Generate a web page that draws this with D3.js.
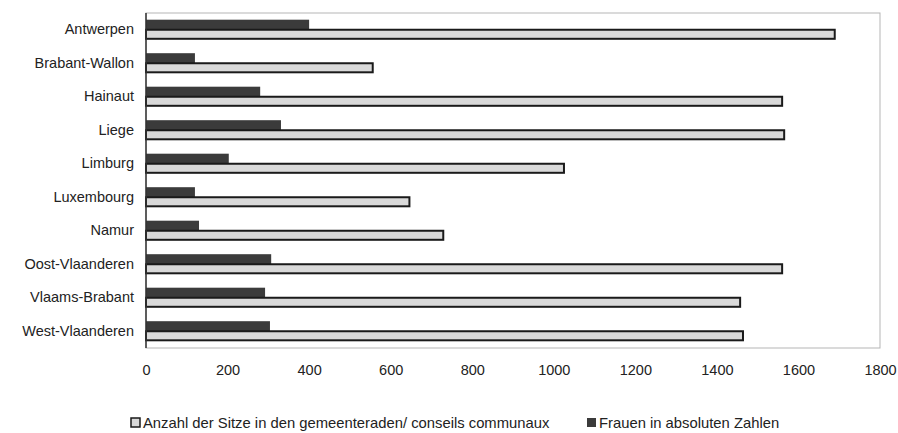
<!DOCTYPE html>
<html>
	<head>
		<meta http-equiv="Content-Type" content="text/html;charset=utf-8"/>
		<title>Sitze und Frauen</title>
		<script src="https://d3js.org/d3.v7.min.js"></script>
		<style type="text/css">
			body { margin: 0; background: #fff; }
			text { font-family: "Liberation Sans", Arial, sans-serif; fill: #222; }
			.seats { fill: #d9d9d9; stroke: #1a1a1a; stroke-width: 2; }
			.women { fill: #3b3b3b; stroke: none; }
		</style>
	</head>
	<body>
		<script type="text/javascript">

			//Data
			var provinces = ["Antwerpen", "Brabant-Wallon", "Hainaut", "Liege", "Limburg",
				"Luxembourg", "Namur", "Oost-Vlaanderen", "Vlaams-Brabant", "West-Vlaanderen"];
			var seats = [1689, 556, 1560, 1565, 1025, 646, 729, 1560, 1457, 1464];
			var women = [400, 120, 280, 331, 203, 120, 130, 307, 292, 304];
			var xTicks = [0, 200, 400, 600, 800, 1000, 1200, 1400, 1600, 1800];
			var seriesNames = ["Anzahl der Sitze in den gemeenteraden/ conseils communaux",
				"Frauen in absoluten Zahlen"];

			var w = 898,
				h = 433,
				mLeft = 146,
				mRight = 880,
				mTop = 13,
				mBottom = 348;

			var svg = d3.select("body").append("svg")
						.attr("width", w)
						.attr("height", h);

			//Scales
			var xScale = d3.scaleLinear()
								 .domain([0, 1800])
								 .range([mLeft, mRight]);

			var yScale = d3.scaleBand()
								 .domain(provinces)
								 .range([mTop, mBottom])
								 .paddingInner(0.4)
								 .paddingOuter(0.2);

			var inner = d3.scaleBand()
								 .domain(["women", "seats"])
								 .range([0, yScale.bandwidth()]);

			//Plot frame
			svg.append("rect")
				.attr("x", mLeft)
				.attr("y", mTop)
				.attr("width", mRight - mLeft)
				.attr("height", mBottom - mTop)
				.attr("fill", "none")
				.attr("stroke", "#b5b5b5")
				.attr("stroke-width", 1);

			var rows = provinces.map(function(p, i) {
				return { name: p, seats: seats[i], women: women[i] };
			});

			//Bars
			svg.selectAll("rect.women")
				.data(rows)
				.enter()
				.append("rect")
				.attr("class", "women")
				.attr("x", xScale(0))
				.attr("y", function(d) { return yScale(d.name) + inner("women"); })
				.attr("width", function(d) { return xScale(d.women) - xScale(0); })
				.attr("height", inner.bandwidth());

			svg.selectAll("rect.seats")
				.data(rows)
				.enter()
				.append("rect")
				.attr("class", "seats")
				.attr("x", xScale(0))
				.attr("y", function(d) { return yScale(d.name) + inner("seats"); })
				.attr("width", function(d) { return xScale(d.seats) - xScale(0); })
				.attr("height", inner.bandwidth() - 1);

			//Left axis line
			svg.append("line")
				.attr("x1", mLeft).attr("x2", mLeft)
				.attr("y1", mTop).attr("y2", mBottom)
				.attr("stroke", "#333")
				.attr("stroke-width", 1.5);

			//Category labels
			var yAxis = svg.append("g")
				.attr("transform", "translate(" + (mLeft - 12) + ",0)")
				.call(d3.axisLeft(yScale).tickSize(0).tickPadding(0));
			yAxis.select(".domain").remove();
			yAxis.selectAll("text")
				.style("font-size", "14.5px")
				.attr("font-family", null)
				.attr("fill", "#222");

			//Value axis
			var xAxis = svg.append("g")
				.attr("transform", "translate(0," + (mBottom + 17) + ")")
				.call(d3.axisBottom(xScale).tickValues(xTicks).tickFormat(d3.format("d")).tickSize(0).tickPadding(0));
			xAxis.select(".domain").remove();
			xAxis.selectAll("text")
				.style("font-size", "14.5px")
				.attr("font-family", null)
				.attr("fill", "#222");

			//Legend
			var legend = [
				{ name: seriesNames[0], cls: "seats", x: 131 },
				{ name: seriesNames[1], cls: "women", x: 587 }
			];
			var lg = svg.selectAll("g.legend")
				.data(legend)
				.enter()
				.append("g")
				.attr("class", "legend")
				.attr("transform", function(d) { return "translate(" + d.x + ",418)"; });
			lg.append("rect")
				.attr("class", function(d) { return d.cls; })
				.attr("x", 0)
				.attr("y", 0)
				.attr("width", 9)
				.attr("height", 9)
				.style("stroke-width", 1.5);
			lg.append("text")
				.attr("x", 12)
				.attr("y", 5)
				.attr("dy", "0.35em")
				.style("font-size", "14.8px")
				.text(function(d) { return d.name; });

		</script>
	</body>
</html>
